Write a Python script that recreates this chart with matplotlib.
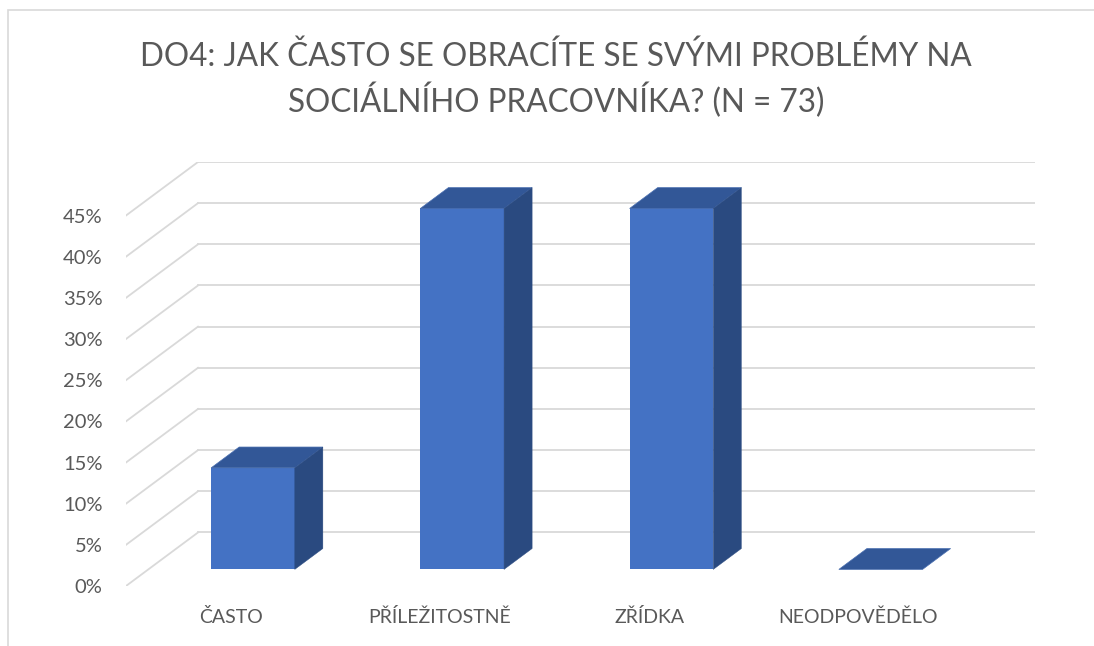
import numpy as np
import matplotlib.pyplot as plt
from matplotlib.patches import Polygon, Rectangle

categories = ['ČASTO', 'PŘÍLEŽITOSTNĚ', 'ZŘÍDKA', 'NEODPOVĚDĚLO']
values = [12.33, 43.84, 43.84, 0.0]  # v procentech (9, 32, 32, 0 z 73)
yticks = np.arange(0, 50, 5)
title = 'DO4: JAK ČASTO SE OBRACÍTE SE SVÝMI PROBLÉMY NA\nSOCIÁLNÍHO PRACOVNÍKA? (N = 73)'

plt.rcParams['font.family'] = ['Lato', 'DejaVu Sans']
W, H = 1094, 646
fig = plt.figure(figsize=(W / 100, H / 100), dpi=100)

# hloubka grafu (sikma projekce) v datovych jednotkach
DX, DY = 0.344, 6.5
d0, d1 = 0.31, 0.70   # predni a zadni stena sloupce jako podil hloubky
bw = 0.40
grid_c = '#d9d9d9'
txt_c = '#595959'

ax = fig.add_axes([126 / W, (H - 586) / H, (1035 - 126) / W, (586 - 162) / H])
ax.set_xlim(-0.5, 3.5 + DX)
ax.set_ylim(0, yticks[-1] + DY)
for s in ax.spines.values():
    s.set_visible(False)

# zadni stena a bocni stena
for v in yticks:
    ax.plot([-0.5 + DX, 3.5 + DX], [v + DY, v + DY], color=grid_c, lw=1.3, zorder=1)
    ax.plot([-0.5, -0.5 + DX], [v, v + DY], color=grid_c, lw=1.3, zorder=1)

x = np.arange(len(categories))
xf = x + d0 * DX
bf = d0 * DY
ddx, ddy = (d1 - d0) * DX, (d1 - d0) * DY
ax.bar(xf, values, width=bw, bottom=bf, color='#4472c4', zorder=3)
for xi, v in zip(xf, values):
    x0, x1 = xi - bw / 2, xi + bw / 2
    top = [(x0, bf + v), (x1, bf + v), (x1 + ddx, bf + v + ddy), (x0 + ddx, bf + v + ddy)]
    ax.add_patch(Polygon(top, closed=True, fc='#325797', ec='#4a6fb0', lw=0.5, zorder=4))
    if v > 0:
        side = [(x1, bf), (x1 + ddx, bf + ddy), (x1 + ddx, bf + ddy + v), (x1, bf + v)]
        ax.add_patch(Polygon(side, closed=True, fc='#2a4a80', ec='#2a4a80', lw=0.3, zorder=4))

ax.set_yticks(yticks)
ax.set_yticklabels([f'{v}%' for v in yticks])
ax.set_xticks(x)
ax.set_xticklabels(categories)
ax.tick_params(axis='y', length=0, pad=17, labelsize=14.5, labelcolor=txt_c)
ax.tick_params(axis='x', length=0, pad=16, labelsize=14, labelcolor=txt_c)

fig.text(556 / W, 1 - 80 / H, title, ha='center', va='center', fontsize=22.7,
         color=txt_c, linespacing=1.38)

# ramecek oblasti grafu
fig.patches.append(Rectangle((8 / W, -0.1), 1.2, 1.1 - 10 / H, transform=fig.transFigure,
                             fill=False, ec=grid_c, lw=1.2))

plt.savefig('out.png', dpi=100)
